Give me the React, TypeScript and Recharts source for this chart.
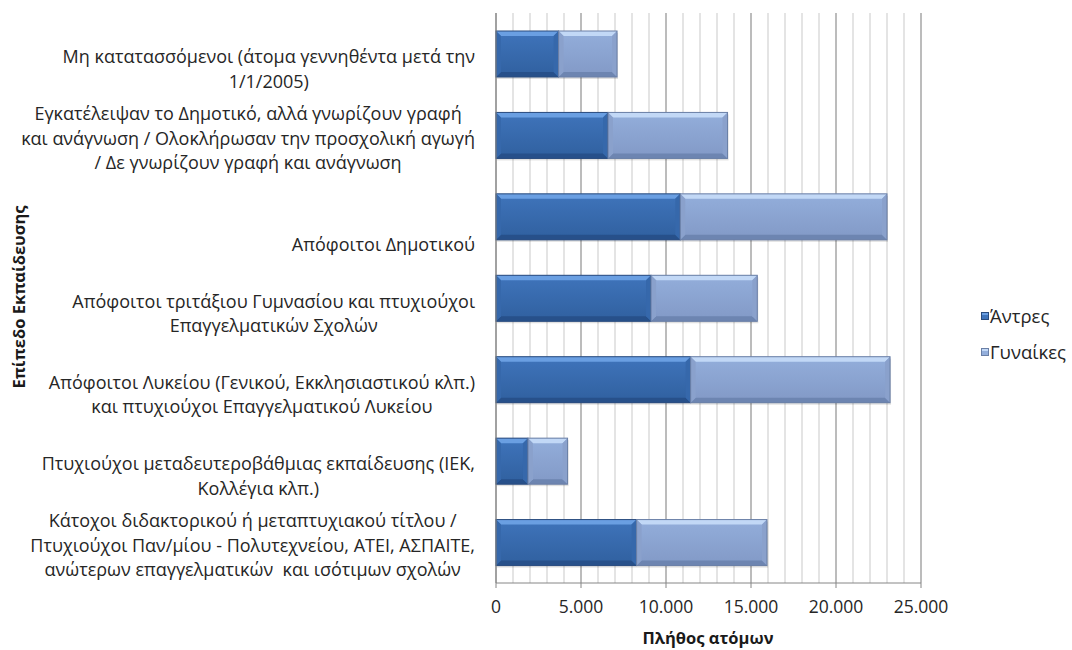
import React from 'react';
import { BarChart, Bar, XAxis, YAxis, CartesianGrid, Legend } from 'recharts';

const categories: string[] = [
  'Μη κατατασσόμενοι (άτομα γεννηθέντα μετά την\n1/1/2005)',
  'Εγκατέλειψαν το Δημοτικό, αλλά γνωρίζουν γραφή\nκαι ανάγνωση / Ολοκλήρωσαν την προσχολική αγωγή\n/ Δε γνωρίζουν γραφή και ανάγνωση',
  'Απόφοιτοι Δημοτικού',
  'Απόφοιτοι τριτάξιου Γυμνασίου και πτυχιούχοι\nΕπαγγελματικών Σχολών',
  'Απόφοιτοι Λυκείου (Γενικού, Εκκλησιαστικού κλπ.)\nκαι πτυχιούχοι Επαγγελματικού Λυκείου',
  'Πτυχιούχοι μεταδευτεροβάθμιας εκπαίδευσης (ΙΕΚ,\nΚολλέγια κλπ.)',
  'Κάτοχοι διδακτορικού ή μεταπτυχιακού τίτλου /\nΠτυχιούχοι Παν/μίου - Πολυτεχνείου, ΑΤΕΙ, ΑΣΠΑΙΤΕ,\nανώτερων επαγγελματικών  και ισότιμων σχολών',
];
const men: number[] = [3680, 6590, 10840, 9120, 11450, 1880, 8270];
const women: number[] = [3440, 7030, 12160, 6250, 11730, 2330, 7670];
const seriesNames: string[] = ['Άντρες', 'Γυναίκες'];
const majorTicks: number[] = [0, 5000, 10000, 15000, 20000, 25000];
const minorTicks: number[] = [
  0, 1000, 2000, 3000, 4000, 5000, 6000, 7000, 8000, 9000, 10000, 11000, 12000,
  13000, 14000, 15000, 16000, 17000, 18000, 19000, 20000, 21000, 22000, 23000, 24000, 25000,
];
const xTitle = 'Πλήθος ατόμων';
const yTitle = 'Επίπεδο Εκπαίδευσης';

const data = categories.map((c, i) => ({ category: c, men: men[i], women: women[i] }));

const FONT = '"Open Sans", "Noto Sans", sans-serif';
const TEXT = '#262626';
const CAT_SIZE = 18;

const menColors = { top: '#6a9fe2', mid1: '#3f74bb', mid2: '#30609f', bottom: '#27508a', side: '#3668ab', edge: '#2a4c7e' };
const womenColors = { top: '#c2d8f6', mid1: '#93aedb', mid2: '#8299c6', bottom: '#6d85b1', side: '#8aa1cc', edge: '#6a7fa6' };

const fmt = (v: number) => String(v).replace(/\B(?=(\d{3})+(?!\d))/g, '.');

let measureCtx: CanvasRenderingContext2D | null = null;
const measure = (s: string) => {
  if (!measureCtx) {
    const c = document.createElement('canvas');
    measureCtx = c.getContext('2d');
  }
  if (!measureCtx) return s.length * CAT_SIZE * 0.5;
  measureCtx.font = `${CAT_SIZE}px ${FONT}`;
  return measureCtx.measureText(s).width;
};

const makeShape = (c: typeof menColors, gid: string) => (props: any) => {
  const { x, y, width, height } = props;
  if (!width || width <= 0 || !height) return <g />;
  const b = Math.min(5, width / 2, height / 2);
  const x2 = x + width;
  const y2 = y + height;
  return (
    <g>
      <rect x={x + 1} y={y + 2} width={width} height={height} fill="rgba(0,0,0,0.12)" />
      <rect x={x} y={y} width={width} height={height} fill={`url(#${gid})`} />
      <polygon points={`${x},${y} ${x2},${y} ${x2 - b},${y + b} ${x + b},${y + b}`} fill={c.top} />
      <polygon points={`${x},${y2} ${x2},${y2} ${x2 - b},${y2 - b} ${x + b},${y2 - b}`} fill={c.bottom} />
      <polygon points={`${x},${y} ${x + b},${y + b} ${x + b},${y2 - b} ${x},${y2}`} fill={c.side} />
      <polygon points={`${x2},${y} ${x2 - b},${y + b} ${x2 - b},${y2 - b} ${x2},${y2}`} fill={c.side} />
      <rect x={x} y={y} width={width} height={height} fill="none" stroke={c.edge} strokeWidth={1} />
    </g>
  );
};

const CategoryTick = (props: any) => {
  const { x, y, payload } = props;
  const lines = String(payload.value).split('\n');
  const lh = 24.5;
  const maxW = Math.max(...lines.map(measure));
  const right = x - 21;
  const cx = right - maxW / 2;
  const lastY = y + 27;
  return (
    <g>
      {lines.map((l, i) => (
        <text
          key={i}
          x={cx}
          y={lastY - (lines.length - 1 - i) * lh}
          textAnchor="middle"
          dominantBaseline="central"
          fontFamily={FONT}
          fontSize={CAT_SIZE}
          fill={TEXT}
          style={{ whiteSpace: 'pre' }}
        >
          {l}
        </text>
      ))}
    </g>
  );
};

const LegendContent = () => {
  const items = [
    { name: seriesNames[0], c: menColors },
    { name: seriesNames[1], c: womenColors },
  ];
  return (
    <div style={{ fontFamily: FONT, fontSize: 18.5, color: TEXT, lineHeight: 1 }}>
      {items.map((it, i) => (
        <div key={i} style={{ display: 'flex', alignItems: 'center', height: 36 }}>
          <svg width={8} height={8} style={{ marginRight: 1 }}>
            <rect x={0.5} y={0.5} width={7} height={7} fill={it.c.mid1} stroke={it.c.edge} />
            <rect x={1} y={1} width={6} height={2} fill={it.c.top} />
          </svg>
          <span>{it.name}</span>
        </div>
      ))}
    </div>
  );
};

export default function App() {
  return (
    <div style={{ position: 'absolute', left: 0, top: 0, width: 1072, height: 650, background: '#fff' }}>
      <BarChart
        width={1072}
        height={650}
        data={data}
        layout="vertical"
        margin={{ top: 13, right: 151, bottom: 12, left: 0 }}
        barSize={46}
      >
        <defs>
          <linearGradient id="gMen" x1="0" y1="0" x2="0" y2="1">
            <stop offset="0%" stopColor={menColors.mid1} />
            <stop offset="100%" stopColor={menColors.mid2} />
          </linearGradient>
          <linearGradient id="gWomen" x1="0" y1="0" x2="0" y2="1">
            <stop offset="0%" stopColor={womenColors.mid1} />
            <stop offset="100%" stopColor={womenColors.mid2} />
          </linearGradient>
        </defs>
        <CartesianGrid horizontal={false} verticalValues={minorTicks} stroke="#c9c9c9" strokeWidth={1} />
        <CartesianGrid horizontal={false} verticalValues={majorTicks} stroke="#949494" strokeWidth={1} />
        <XAxis
          type="number"
          domain={[0, 25000]}
          ticks={majorTicks}
          tickFormatter={fmt}
          height={55}
          axisLine={{ stroke: '#868686' }}
          tickLine={{ stroke: '#868686' }}
          tickSize={5}
          tickMargin={13}
          tick={{ fontFamily: FONT, fontSize: 17.5, fill: TEXT }}
          interval={0}
          label={{
            content: () => (
              <text x={708} y={637} textAnchor="middle" dominantBaseline="central" fontFamily={FONT} fontSize={16.5} fontWeight="bold" fill="#1a1a1a">
                {xTitle}
              </text>
            ),
          }}
        />
        <YAxis
          type="category"
          dataKey="category"
          width={496}
          axisLine={{ stroke: '#868686' }}
          tickLine={false}
          tickSize={0}
          tickMargin={0}
          interval={0}
          tick={<CategoryTick />}
          label={{
            content: () => (
              <text
                x={18}
                y={297}
                transform="rotate(-90, 18, 297)"
                textAnchor="middle"
                dominantBaseline="central"
                fontFamily={FONT}
                fontSize={16.5}
                fontWeight="bold"
                fill="#1a1a1a"
              >
                {yTitle}
              </text>
            ),
          }}
        />
        <Legend
          layout="vertical"
          align="center"
          verticalAlign="middle"
          content={<LegendContent />}
          wrapperStyle={{ left: 981, top: 298, width: 91 }}
        />
        <Bar dataKey="men" name={seriesNames[0]} stackId="a" isAnimationActive={false} shape={makeShape(menColors, 'gMen')} />
        <Bar dataKey="women" name={seriesNames[1]} stackId="a" isAnimationActive={false} shape={makeShape(womenColors, 'gWomen')} />
      </BarChart>
    </div>
  );
}
